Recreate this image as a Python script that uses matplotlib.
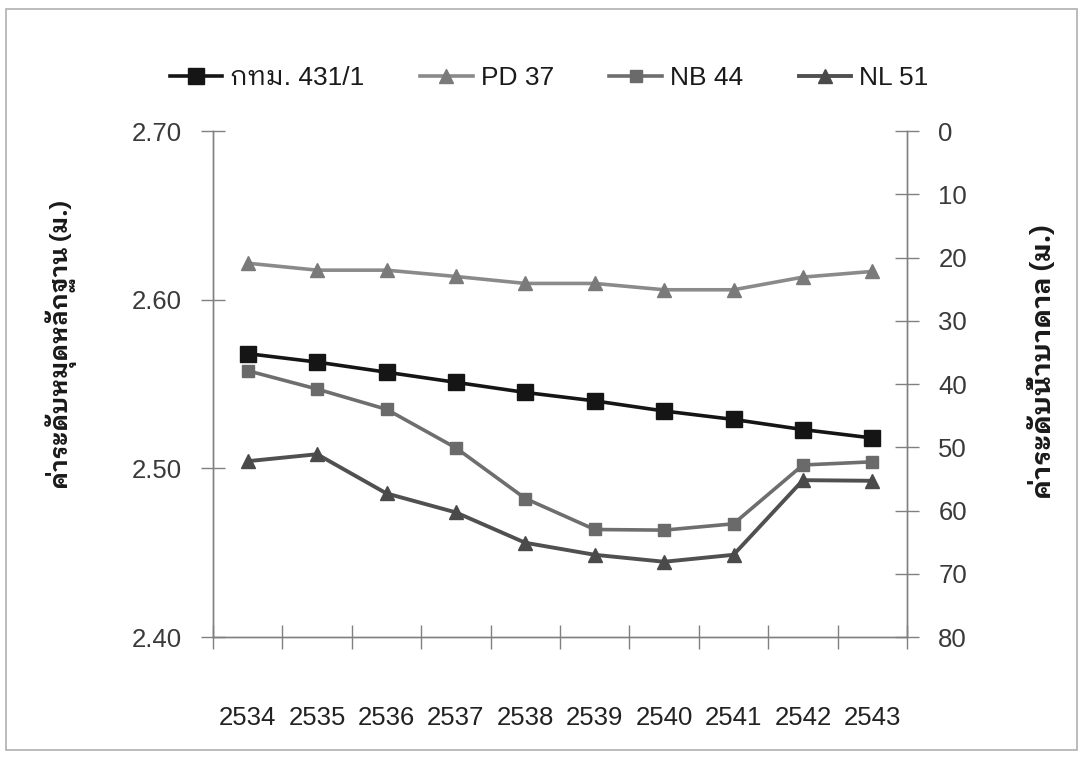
import matplotlib
matplotlib.use("Agg")
import matplotlib.pyplot as plt
from matplotlib.patches import Rectangle

# years (Thai Buddhist calendar)
years = ['2534', '2535', '2536', '2537', '2538', '2539', '2540', '2541', '2542', '2543']

# benchmark elevation, left axis (m.)
bkk_431 = [2.568, 2.563, 2.557, 2.551, 2.545, 2.540, 2.534, 2.529, 2.523, 2.518]

# groundwater levels, right axis (m.)
pd_37 = [20.9, 22.0, 22.0, 23.0, 24.1, 24.1, 25.1, 25.1, 23.1, 22.2]
nb_44 = [37.9, 40.8, 44.0, 50.1, 58.1, 63.0, 63.1, 62.1, 52.8, 52.3]
nl_51 = [52.2, 51.1, 57.3, 60.3, 65.1, 67.0, 68.1, 67.0, 55.2, 55.3]

left_ticks = [2.40, 2.50, 2.60, 2.70]
right_ticks = [0, 10, 20, 30, 40, 50, 60, 70, 80]

thai = ['Liberation Sans', 'IBM Plex Sans Thai Looped']
plt.rcParams['font.family'] = thai

fig = plt.figure(figsize=(10.83, 7.59), dpi=100)
fig.patches.append(Rectangle((0.006, 0.012), 0.988, 0.976, transform=fig.transFigure,
                             fill=False, edgecolor='#b0b0b0', linewidth=1.2))
ax = fig.add_axes([0.1967, 0.1607, 0.6408, 0.6667])
ax2 = ax.twinx()

x = list(range(len(years)))

l1, = ax.plot(x, bkk_431, color='#151515', lw=2.6, marker='s', ms=11.5,
              mfc='#151515', mec='#151515', label='กทม. 431/1', zorder=5)
l2, = ax2.plot(x, pd_37, color='#8a8a8a', lw=2.6, marker='^', ms=10,
               mfc='#7a7a7a', mec='#7a7a7a', label='PD 37')
l3, = ax2.plot(x, nb_44, color='#6e6e6e', lw=2.6, marker='s', ms=9,
               mfc='#6a6a6a', mec='#6a6a6a', label='NB 44')
l4, = ax2.plot(x, nl_51, color='#505050', lw=2.8, marker='^', ms=10,
               mfc='#4a4a4a', mec='#4a4a4a', label='NL 51')

ax.set_xlim(-0.5, len(years) - 0.5)
ax.set_ylim(2.40, 2.70)
ax.set_yticks(left_ticks)
ax.set_yticklabels(['%.2f' % v for v in left_ticks])
ax2.set_ylim(80, 0)
ax2.set_yticks(right_ticks)

# category boundaries carry the tick marks, labels sit at the centres
ax.set_xticks([i - 0.5 for i in range(len(years) + 1)])
ax.set_xticklabels([])
ax.set_xticks(x, minor=True)
ax.set_xticklabels(years, minor=True)
ax.tick_params(axis='x', which='major', direction='inout', length=17, width=1, color='#808080')
ax.tick_params(axis='x', which='minor', length=0, pad=50, labelsize=18.5, labelcolor='#222222')
ax.tick_params(axis='y', direction='inout', length=17, width=1, color='#808080',
               pad=14, labelsize=18.5, labelcolor='#3a3a3a')
ax2.tick_params(axis='y', direction='inout', length=17, width=1, color='#808080',
                pad=14, labelsize=18.5, labelcolor='#3a3a3a')

for a in (ax, ax2):
    a.spines['top'].set_visible(False)
    for s in ('left', 'right', 'bottom'):
        a.spines[s].set_color('#808080')
        a.spines[s].set_linewidth(1)

# axis titles placed by hand
fig.text(61 / 1083, 1 - 345 / 759, 'ค่าระดับหมุดหลักฐาน (ม.)', rotation=90,
         ha='center', va='center', fontsize=17.5, fontweight='bold',
         family=['IBM Plex Sans Thai Looped'], color='#1a1a1a')
fig.text(1043 / 1083, 1 - 362 / 759, 'ค่าระดับน้ำบาดาล (ม.)', rotation=90,
         ha='center', va='center', fontsize=19.5, fontweight='bold',
         family=['IBM Plex Sans Thai Looped'], color='#1a1a1a')

fig.legend(handles=[l1, l2, l3, l4], loc='center', bbox_to_anchor=(0.507, 0.897), ncol=4,
           frameon=False, fontsize=19, handlelength=2.0, handletextpad=0.3,
           columnspacing=2.1, labelcolor='#1a1a1a')

fig.savefig('out.png', dpi=100)
